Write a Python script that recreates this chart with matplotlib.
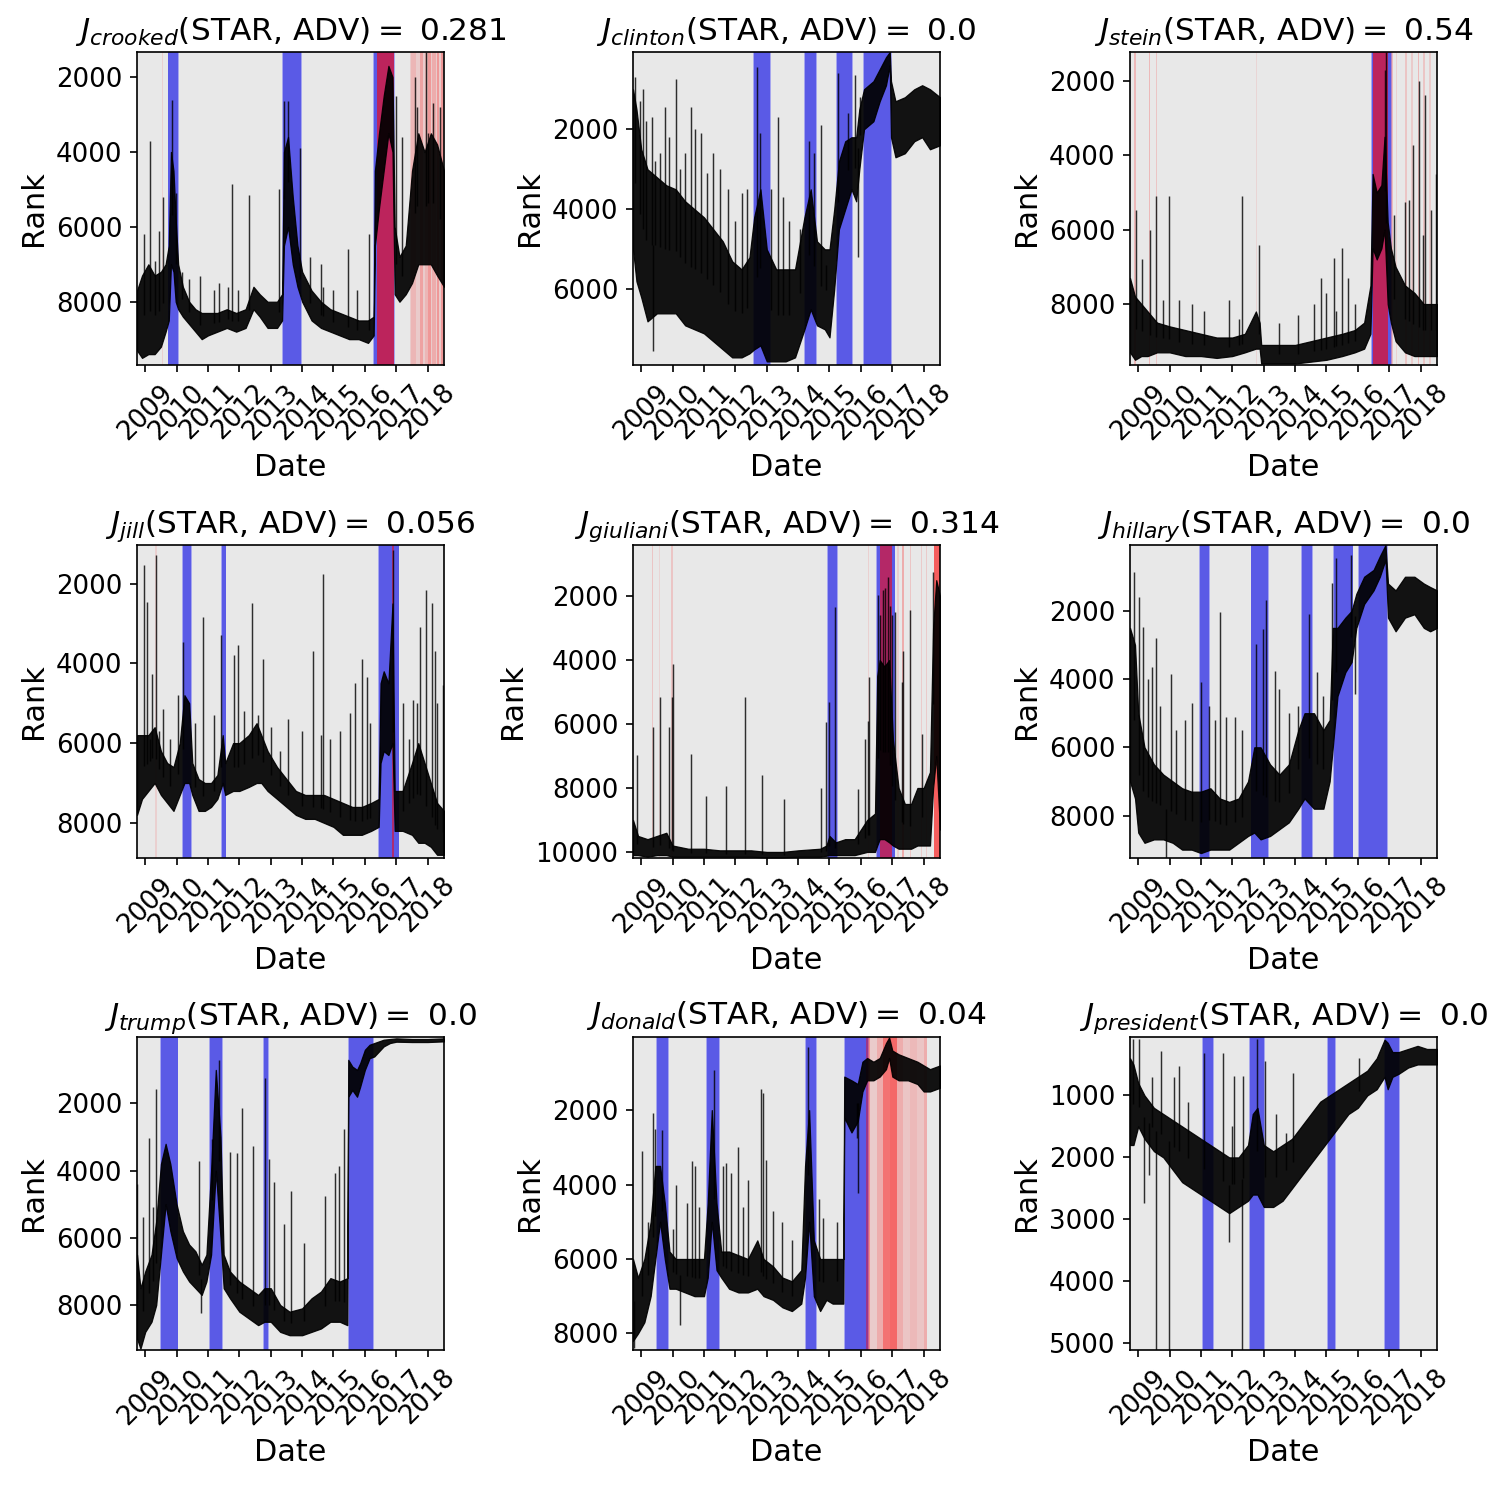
import matplotlib
matplotlib.use("Agg")
import matplotlib.pyplot as plt
import matplotlib.dates as mdates
import numpy as np
from datetime import datetime, timedelta

# words and their J(STAR, ADV) score
words = ['crooked', 'clinton', 'stein', 'jill', 'giuliani', 'hillary', 'trump', 'donald', 'president']
j_scores = ['0.281', '0.0', '0.54', '0.056', '0.314', '0.0', '0.0', '0.04', '0.0']

# rank band per word: (decimal year, upper rank, lower rank)
crooked_band = [(2008.74, 7700, 9300), (2008.9, 7300, 9500), (2009.1, 7000, 9400), (2009.3, 7300, 9400),
                (2009.5, 7200, 9200), (2009.65, 7000, 8800), (2009.75, 6500, 8500), (2009.82, 4000, 7000),
                (2009.9, 4500, 7200), (2009.97, 5800, 8000), (2010.05, 7000, 8200), (2010.2, 7600, 8400),
                (2010.4, 8000, 8600), (2010.6, 8200, 8800), (2010.8, 8300, 9000), (2011.0, 8300, 8900),
                (2011.3, 8300, 8800), (2011.6, 8200, 8700), (2011.9, 8300, 8800), (2012.2, 8200, 8700),
                (2012.45, 7600, 8200), (2012.65, 7800, 8400), (2012.9, 8000, 8700), (2013.2, 8000, 8700),
                (2013.36, 7800, 8500), (2013.42, 4000, 6500), (2013.55, 3600, 6000), (2013.7, 5200, 7000),
                (2013.85, 6500, 7600), (2014.0, 7200, 8000), (2014.3, 7700, 8500), (2014.6, 8000, 8700),
                (2014.9, 8200, 8800), (2015.2, 8300, 8900), (2015.5, 8400, 9000), (2015.8, 8500, 9000),
                (2016.1, 8500, 9100), (2016.28, 8400, 8900), (2016.32, 4500, 6500), (2016.45, 3500, 5500),
                (2016.6, 2500, 4500), (2016.75, 1700, 3500), (2016.88, 2000, 4000), (2016.95, 6000, 7800),
                (2017.1, 6800, 8000), (2017.3, 6500, 7800), (2017.5, 4500, 7500), (2017.7, 3500, 7000),
                (2017.9, 4000, 7000), (2018.1, 3500, 7000), (2018.3, 3800, 7300), (2018.52, 4500, 7600)]
clinton_band = [(2008.74, 1000, 5000), (2008.85, 1500, 5800), (2009.0, 2500, 6200), (2009.2, 3000, 6800),
                (2009.5, 3200, 6600), (2009.8, 3400, 6600), (2010.1, 3500, 6600), (2010.4, 3800, 6900),
                (2010.7, 4000, 7000), (2011.0, 4200, 7100), (2011.3, 4500, 7300), (2011.6, 4800, 7500),
                (2011.9, 5300, 7700), (2012.2, 5500, 7700), (2012.45, 5200, 7600), (2012.6, 4200, 7500),
                (2012.8, 3500, 7400), (2013.0, 5000, 7800), (2013.3, 5500, 7800), (2013.6, 5500, 7800),
                (2013.9, 5500, 7700), (2014.2, 4200, 7000), (2014.4, 3500, 6500), (2014.6, 4800, 6900),
                (2014.85, 5000, 7000), (2015.0, 5000, 7200), (2015.15, 4000, 6000), (2015.3, 2800, 4500),
                (2015.5, 2300, 4000), (2015.7, 2200, 3500), (2015.85, 2200, 3800), (2015.95, 1500, 3000),
                (2016.1, 1000, 2000), (2016.4, 800, 1800), (2016.6, 500, 1300), (2016.8, 200, 900),
                (2016.92, 70, 400), (2016.96, 800, 2200), (2017.1, 1300, 2700), (2017.4, 1200, 2600),
                (2017.7, 1000, 2300), (2017.95, 900, 2200), (2018.2, 1000, 2500), (2018.52, 1200, 2400)]
stein_band = [(2008.74, 7300, 9300), (2008.9, 7800, 9500), (2009.1, 8000, 9400), (2009.3, 8200, 9400),
              (2009.6, 8500, 9300), (2010.0, 8600, 9300), (2010.5, 8700, 9400), (2011.0, 8800, 9400),
              (2011.5, 8900, 9450), (2012.0, 8900, 9400), (2012.4, 8800, 9300), (2012.75, 8200, 9200),
              (2012.87, 8500, 9200), (2012.92, 9100, 9600), (2013.3, 9100, 9600), (2013.7, 9100, 9600),
              (2014.0, 9100, 9600), (2014.5, 9000, 9550), (2015.0, 8900, 9500), (2015.5, 8800, 9400),
              (2015.9, 8700, 9300), (2016.2, 8500, 9200), (2016.4, 7500, 8800), (2016.47, 4500, 6500),
              (2016.6, 5000, 6800), (2016.75, 4800, 6500), (2016.85, 3500, 6000), (2016.95, 5800, 8000),
              (2017.05, 6500, 8500), (2017.2, 7000, 9000), (2017.5, 7500, 9300), (2017.8, 7700, 9400),
              (2018.1, 8000, 9400), (2018.3, 8000, 9400), (2018.52, 8000, 9400)]
jill_band = [(2008.74, 5800, 7800), (2008.9, 5800, 7400), (2009.1, 5800, 7200), (2009.3, 5600, 7000),
             (2009.5, 6200, 7300), (2009.7, 6500, 7500), (2009.9, 6600, 7700), (2010.1, 6000, 7300),
             (2010.25, 4800, 7000), (2010.4, 5000, 7000), (2010.5, 6500, 7300), (2010.7, 6900, 7700),
             (2010.9, 7000, 7700), (2011.1, 7000, 7600), (2011.3, 6800, 7400), (2011.47, 5800, 7000),
             (2011.55, 6500, 7300), (2011.8, 6000, 7200), (2012.0, 6000, 7200), (2012.3, 5800, 7100),
             (2012.55, 5500, 7000), (2012.7, 5800, 7000), (2012.9, 6200, 7200), (2013.2, 6600, 7400),
             (2013.5, 6900, 7600), (2013.8, 7200, 7800), (2014.1, 7300, 7900), (2014.4, 7300, 7900),
             (2014.7, 7300, 8000), (2015.0, 7400, 8100), (2015.3, 7500, 8300), (2015.6, 7600, 8300),
             (2015.9, 7600, 8300), (2016.2, 7500, 8200), (2016.44, 7400, 8100), (2016.5, 4500, 6500),
             (2016.6, 4200, 6200), (2016.75, 4500, 6300), (2016.88, 2500, 6000), (2016.95, 7200, 8200),
             (2017.2, 7200, 8200), (2017.5, 6500, 8300), (2017.7, 6000, 8500), (2017.9, 6500, 8500),
             (2018.1, 7000, 8600), (2018.3, 7500, 8800), (2018.52, 7700, 8800)]
giuliani_band = [(2008.74, 9000, 10100), (2008.9, 9500, 10100), (2009.2, 9600, 10150), (2009.5, 9500, 10100),
                 (2009.8, 9400, 10100), (2010.0, 9800, 10150), (2010.5, 9900, 10150), (2011.0, 9900, 10150),
                 (2011.5, 9950, 10150), (2012.0, 9950, 10150), (2012.5, 9950, 10150), (2013.0, 10000, 10170),
                 (2013.5, 10000, 10170), (2014.0, 9950, 10150), (2014.7, 9900, 10150), (2014.9, 9800, 10120),
                 (2015.0, 9500, 10100), (2015.2, 9700, 10100), (2015.5, 9600, 10100), (2015.8, 9600, 10100),
                 (2016.0, 9300, 10050), (2016.2, 9000, 10000), (2016.45, 8800, 10000), (2016.52, 4500, 9800),
                 (2016.6, 4000, 9600), (2016.75, 4200, 9600), (2016.9, 4000, 9700), (2017.02, 6500, 9800),
                 (2017.2, 8000, 9900), (2017.4, 8500, 9900), (2017.6, 8500, 9900), (2017.8, 8000, 9800),
                 (2018.0, 8000, 9800), (2018.2, 7500, 9800), (2018.3, 3000, 8000), (2018.4, 1500, 7000),
                 (2018.52, 2000, 9300)]
hillary_band = [(2008.74, 2500, 7000), (2008.9, 3000, 7500), (2009.0, 5000, 8500), (2009.2, 6000, 8800),
                (2009.5, 6500, 8700), (2009.8, 6800, 8700), (2010.1, 7000, 8800), (2010.4, 7200, 9000),
                (2010.7, 7300, 9000), (2011.0, 7300, 9100), (2011.3, 7200, 9000), (2011.6, 7500, 9000),
                (2011.9, 7600, 9000), (2012.2, 7500, 8800), (2012.5, 7000, 8600), (2012.7, 6000, 8500),
                (2012.9, 6000, 8700), (2013.2, 6500, 8600), (2013.5, 6800, 8400), (2013.8, 6500, 8200),
                (2014.1, 5500, 7800), (2014.3, 5000, 7500), (2014.6, 5000, 7800), (2014.9, 5500, 7800),
                (2015.1, 5200, 7000), (2015.2, 2500, 6000), (2015.35, 2500, 4500), (2015.6, 2200, 3800),
                (2015.8, 2000, 3500), (2015.95, 1500, 2500), (2016.2, 1000, 1800), (2016.5, 800, 1400),
                (2016.7, 400, 1000), (2016.88, 70, 500), (2016.96, 1200, 2200), (2017.2, 1400, 2600),
                (2017.5, 1000, 2200), (2017.8, 1000, 2100), (2018.1, 1200, 2500), (2018.3, 1300, 2600),
                (2018.52, 1400, 2500)]
trump_band = [(2008.74, 6500, 9000), (2008.85, 7500, 9300), (2009.0, 7000, 8800), (2009.2, 6500, 8500),
              (2009.35, 5500, 8000), (2009.5, 3800, 6500), (2009.65, 3200, 5000), (2009.8, 3800, 5800),
              (2010.0, 5000, 6600), (2010.2, 5800, 7000), (2010.4, 6200, 7300), (2010.6, 6400, 7500),
              (2010.8, 6800, 7700), (2010.95, 6500, 7300), (2011.1, 4000, 6500), (2011.25, 1000, 4000),
              (2011.4, 3000, 6000), (2011.5, 6500, 7500), (2011.7, 7000, 7800), (2012.0, 7300, 8200),
              (2012.3, 7500, 8400), (2012.6, 7700, 8600), (2012.8, 7500, 8500), (2013.0, 7500, 8500),
              (2013.3, 8000, 8800), (2013.6, 8200, 8900), (2014.0, 8100, 8900), (2014.3, 7800, 8800),
              (2014.6, 7600, 8700), (2014.9, 7200, 8500), (2015.2, 7300, 8500), (2015.44, 7200, 8600),
              (2015.47, 700, 1800), (2015.6, 900, 1600), (2015.75, 1000, 1800), (2015.85, 800, 1500),
              (2016.0, 400, 1000), (2016.15, 250, 650), (2016.3, 200, 600), (2016.6, 100, 300),
              (2016.8, 80, 200), (2017.0, 60, 160), (2017.5, 80, 170), (2018.0, 80, 170), (2018.52, 60, 150)]
donald_band = [(2008.74, 6000, 8200), (2008.9, 6500, 8000), (2009.1, 6000, 7700), (2009.3, 5000, 7000),
               (2009.45, 3500, 6000), (2009.6, 3500, 5000), (2009.75, 4500, 6000), (2009.9, 5800, 6800),
               (2010.1, 6000, 6800), (2010.4, 6000, 6900), (2010.7, 6000, 7000), (2011.0, 6000, 7000),
               (2011.12, 4500, 6500), (2011.25, 2000, 5000), (2011.4, 4500, 6300), (2011.55, 5800, 6500),
               (2011.8, 5800, 6800), (2012.1, 5900, 6900), (2012.4, 6000, 6900), (2012.7, 5500, 6800),
               (2012.9, 6000, 7000), (2013.2, 6200, 7100), (2013.5, 6500, 7300), (2013.8, 6600, 7400),
               (2014.1, 6300, 7200), (2014.22, 3500, 6500), (2014.35, 2000, 5000), (2014.5, 5500, 7000),
               (2014.7, 6000, 7400), (2014.9, 6000, 7100), (2015.1, 6000, 7200), (2015.44, 6000, 7200),
               (2015.47, 1100, 2200), (2015.7, 1200, 2600), (2015.9, 1300, 2300), (2016.05, 700, 1500),
               (2016.2, 600, 1200), (2016.4, 700, 1200), (2016.6, 600, 1100), (2016.8, 200, 900),
               (2016.9, 50, 600), (2017.0, 400, 1100), (2017.2, 500, 1200), (2017.5, 600, 1200),
               (2017.8, 700, 1300), (2018.0, 800, 1500), (2018.2, 900, 1500), (2018.52, 800, 1400)]
president_band = [(2008.74, 400, 1800), (2008.85, 500, 1800), (2009.0, 800, 1500), (2009.2, 1000, 1700),
                  (2009.5, 1200, 1900), (2009.8, 1300, 2000), (2010.1, 1400, 2200), (2010.4, 1500, 2400),
                  (2010.7, 1600, 2500), (2011.0, 1700, 2600), (2011.3, 1800, 2700), (2011.6, 1900, 2800),
                  (2011.9, 2000, 2900), (2012.2, 2000, 2800), (2012.5, 1800, 2700), (2012.65, 1300, 2600),
                  (2012.8, 1200, 2600), (2013.0, 1800, 2800), (2013.3, 1900, 2800), (2013.6, 1800, 2700),
                  (2013.9, 1700, 2500), (2014.2, 1500, 2300), (2014.5, 1300, 2100), (2014.8, 1100, 1900),
                  (2015.1, 1000, 1700), (2015.4, 900, 1500), (2015.7, 800, 1300), (2016.0, 700, 1200),
                  (2016.3, 600, 1000), (2016.6, 400, 900), (2016.85, 100, 700), (2016.95, 150, 900),
                  (2017.1, 300, 700), (2017.3, 300, 650), (2017.6, 250, 550), (2017.9, 200, 500),
                  (2018.2, 250, 500), (2018.52, 250, 500)]

# single-day spikes: (decimal year, rank reached)
crooked_spikes = [(2008.95, 6200), (2009.16, 3700), (2009.3, 6900), (2009.45, 6100), (2009.58, 5200),
                  (2009.86, 2600), (2009.98, 5100), (2010.17, 7200), (2010.38, 7400), (2010.75, 7300),
                  (2011.18, 7700), (2011.34, 7500), (2011.65, 7600), (2011.78, 4850), (2011.97, 7700),
                  (2012.3, 5150), (2013.26, 5000), (2013.42, 2650), (2013.55, 2650), (2013.94, 3900),
                  (2014.26, 6800), (2014.6, 7000), (2014.68, 7600), (2015.0, 7700), (2015.45, 6600),
                  (2015.76, 7700), (2016.14, 6200), (2016.98, 2500), (2017.17, 3600), (2017.6, 2000),
                  (2017.65, 2800), (2017.95, 1330), (2018.02, 3500), (2018.17, 2700), (2018.4, 2800)]
clinton_spikes = [(2008.8, 700), (2008.95, 1300), (2009.05, 1000), (2009.15, 1800), (2009.35, 1700),
                  (2009.39, 7550), (2009.45, 2800), (2009.6, 2600), (2009.76, 1450), (2009.9, 2200),
                  (2010.1, 750), (2010.25, 3000), (2010.4, 2600), (2010.58, 1450), (2010.7, 2000),
                  (2010.9, 2100), (2011.1, 3100), (2011.3, 2600), (2011.5, 3000), (2011.78, 3500),
                  (2012.0, 4300), (2012.2, 3600), (2012.37, 3500), (2012.68, 450), (2012.79, 2100),
                  (2013.15, 3500), (2013.35, 1700), (2013.53, 3700), (2013.7, 4300), (2014.05, 4500),
                  (2014.35, 2300), (2014.5, 2600), (2014.73, 1900), (2014.88, 5400), (2015.28, 600),
                  (2015.58, 1600), (2015.82, 650), (2015.92, 5200), (2015.97, 1200)]
stein_spikes = [(2008.94, 5470), (2009.13, 6800), (2009.37, 6000), (2009.58, 5100), (2009.8, 7900),
                (2009.97, 5100), (2010.3, 7900), (2010.7, 8000), (2011.1, 8200), (2011.9, 7900),
                (2012.2, 8400), (2012.31, 5100), (2012.84, 6400), (2013.5, 8500), (2014.1, 8300),
                (2014.6, 8000), (2014.84, 7300), (2015.0, 7700), (2015.23, 6750), (2015.3, 8200),
                (2015.5, 6500), (2015.68, 7300), (2015.9, 8000), (2016.86, 1700), (2016.9, 1220),
                (2017.16, 5600), (2017.51, 5250), (2017.62, 5200), (2017.76, 3730), (2017.94, 2000),
                (2018.08, 6150), (2018.13, 2380), (2018.33, 5470), (2018.49, 4500)]
jill_spikes = [(2008.95, 1540), (2009.06, 2460), (2009.15, 5900), (2009.23, 4270), (2009.34, 1290),
               (2009.45, 5700), (2009.58, 5150), (2009.8, 5900), (2010.05, 4800), (2010.2, 3470),
               (2010.6, 5500), (2010.84, 2840), (2011.2, 5300), (2011.42, 3300), (2011.84, 3800),
               (2011.95, 3550), (2012.15, 5200), (2012.4, 2500), (2012.6, 5300), (2012.75, 3900),
               (2013.0, 5600), (2013.3, 6200), (2013.56, 5400), (2014.0, 5700), (2014.36, 3700),
               (2014.6, 5800), (2014.66, 1750), (2014.9, 5900), (2015.2, 5700), (2015.51, 5250),
               (2015.7, 4500), (2015.92, 3900), (2016.06, 4350), (2016.15, 5500), (2016.91, 1150),
               (2017.2, 5000), (2017.4, 5900), (2017.54, 4930), (2017.65, 5000), (2017.74, 3100),
               (2017.95, 2170), (2018.13, 2500), (2018.24, 3700), (2018.3, 5000), (2018.48, 4550)]
giuliani_spikes = [(2008.86, 6980), (2009.36, 6080), (2009.6, 5140), (2009.9, 6080), (2009.97, 5140),
                   (2010.0, 4120), (2010.59, 6950), (2011.07, 8250), (2011.71, 7930), (2012.32, 5140),
                   (2012.84, 7600), (2013.55, 8340), (2014.73, 8000), (2014.89, 5950), (2014.99, 5320),
                   (2015.16, 2340), (2015.92, 8040), (2016.13, 6470), (2016.24, 5900), (2016.26, 4530),
                   (2016.54, 1970), (2016.62, 2600), (2016.7, 1800), (2016.78, 1760), (2016.86, 1400),
                   (2016.94, 2300), (2017.0, 2600), (2017.07, 2500), (2017.3, 4700), (2017.35, 3700),
                   (2017.57, 2440), (2017.96, 6320), (2018.31, 1240)]
hillary_spikes = [(2008.88, 850), (2009.02, 1590), (2009.16, 2470), (2009.3, 4000), (2009.44, 3650),
                  (2009.58, 2800), (2009.7, 4800), (2009.9, 9245), (2010.04, 3840), (2010.2, 5500),
                  (2010.5, 5200), (2010.7, 4700), (2010.99, 4100), (2011.25, 4800), (2011.45, 5200),
                  (2011.6, 2030), (2011.8, 5100), (2012.1, 5100), (2012.3, 5500), (2012.77, 2960),
                  (2012.98, 2520), (2013.06, 1690), (2013.35, 3750), (2013.5, 4300), (2013.8, 5000),
                  (2014.1, 4800), (2014.43, 2080), (2014.7, 3800), (2014.9, 4500), (2015.18, 1170),
                  (2015.29, 460), (2015.78, 360), (2015.92, 4440)]
trump_spikes = [(2008.75, 4400), (2008.92, 5380), (2009.13, 3020), (2009.24, 5080), (2009.35, 1580),
                (2010.7, 3700), (2010.78, 8250), (2011.12, 3070), (2011.34, 700), (2011.7, 3430),
                (2011.91, 3470), (2012.1, 2130), (2012.42, 3270), (2012.82, 1230), (2012.96, 3640),
                (2013.11, 4330), (2013.43, 5600), (2013.65, 4600), (2014.05, 6150), (2014.73, 4750),
                (2015.05, 4060), (2015.16, 3870), (2015.32, 2770)]
donald_spikes = [(2008.78, 8380), (2009.02, 3100), (2009.2, 5000), (2009.37, 2070), (2009.44, 2500),
                 (2009.67, 2540), (2010.0, 5200), (2010.11, 4000), (2010.24, 7780), (2010.45, 4500),
                 (2010.61, 3380), (2010.7, 3500), (2010.85, 4600), (2011.32, 930), (2011.6, 3500),
                 (2011.7, 3430), (2011.85, 3700), (2012.07, 2980), (2012.25, 4600), (2012.39, 3870),
                 (2012.81, 1420), (2012.87, 1550), (2012.99, 3340), (2013.2, 4700), (2013.5, 5000),
                 (2013.8, 5500), (2014.33, 300), (2014.65, 4400), (2014.8, 4900), (2015.25, 5000),
                 (2015.89, 2760), (2015.9, 4230)]
president_spikes = [(2008.84, 95), (2009.04, 95), (2009.19, 2740), (2009.34, 2280), (2009.45, 700),
                    (2009.58, 5108), (2009.71, 280), (2009.98, 5108), (2010.15, 700), (2010.29, 525),
                    (2010.6, 1100), (2011.11, 310), (2011.7, 310), (2011.9, 3360), (2012.0, 1500),
                    (2012.05, 690), (2012.3, 5108), (2012.34, 690), (2012.79, 95), (2013.05, 445),
                    (2013.4, 1300), (2013.7, 1600), (2013.93, 630), (2016.03, 390)]

# STAR periods (blue) and ADV periods (red, with strength)
crooked_blue = [(2009.74, 2010.06), (2013.38, 2013.96), (2016.30, 2016.93)]
clinton_blue = [(2012.58, 2013.11), (2014.23, 2014.56), (2015.25, 2015.72), (2016.09, 2016.95)]
stein_blue = [(2016.45, 2017.04)]
jill_blue = [(2010.2, 2010.46), (2011.44, 2011.56), (2016.46, 2017.07)]
giuliani_blue = [(2014.94, 2015.23), (2016.5, 2017.07)]
hillary_blue = [(2010.96, 2011.25), (2012.61, 2013.13), (2014.22, 2014.55), (2015.23, 2015.83), (2016.04, 2016.93)]
trump_blue = [(2009.51, 2010.03), (2011.07, 2011.46), (2012.79, 2012.9), (2015.5, 2016.27)]
donald_blue = [(2009.5, 2009.85), (2011.11, 2011.49), (2014.24, 2014.57), (2015.5, 2016.24)]
president_blue = [(2011.06, 2011.38), (2012.57, 2013.02), (2015.06, 2015.26), (2016.86, 2017.3)]

crooked_red = [(2009.53, 2009.57, 0.1), (2016.38, 2016.93, 0.6), (2017.45, 2018.52, 0.12),
               (2017.48, 2017.62, 0.1), (2017.75, 2017.85, 0.2), (2017.9, 2018.0, 0.1),
               (2018.02, 2018.1, 0.25), (2018.15, 2018.25, 0.15), (2018.3, 2018.35, 0.25), (2018.42, 2018.5, 0.25)]
clinton_red = []
stein_red = [(2008.88, 2008.92, 0.2), (2009.35, 2009.39, 0.2), (2009.56, 2009.6, 0.15), (2012.74, 2012.78, 0.08),
             (2016.48, 2016.97, 0.6), (2017.05, 2017.12, 0.2), (2017.2, 2017.25, 0.1), (2017.5, 2017.56, 0.15),
             (2017.68, 2017.75, 0.12), (2017.9, 2017.96, 0.2), (2018.08, 2018.14, 0.15), (2018.28, 2018.34, 0.12)]
jill_red = [(2009.32, 2009.36, 0.1), (2016.88, 2016.93, 0.5)]
giuliani_red = [(2009.35, 2009.39, 0.15), (2009.56, 2009.6, 0.08), (2009.96, 2010.0, 0.15), (2016.23, 2016.27, 0.1),
                (2016.6, 2017.0, 0.55), (2017.15, 2017.2, 0.1), (2017.3, 2017.36, 0.25), (2017.55, 2017.6, 0.15),
                (2017.9, 2017.95, 0.12), (2018.07, 2018.12, 0.12), (2018.34, 2018.52, 0.6)]
hillary_red = []
trump_red = []
donald_red = [(2016.17, 2016.29, 0.4), (2016.29, 2016.5, 0.12), (2016.5, 2016.72, 0.25), (2016.72, 2016.94, 0.5),
              (2016.94, 2017.16, 0.55), (2017.16, 2017.35, 0.25), (2017.35, 2017.57, 0.15),
              (2017.57, 2017.78, 0.2), (2017.78, 2018.0, 0.15), (2018.0, 2018.1, 0.25)]
president_red = []

# visible rank range (bottom, top) per panel
rank_limits = [(9690, 1330), (7890, 70), (9640, 1220), (8880, 1035), (10190, 400),
               (9245, 70), (9340, 20), (8446, 36), (5108, 57)]

bands = [crooked_band, clinton_band, stein_band, jill_band, giuliani_band,
         hillary_band, trump_band, donald_band, president_band]
spikes = [crooked_spikes, clinton_spikes, stein_spikes, jill_spikes, giuliani_spikes,
          hillary_spikes, trump_spikes, donald_spikes, president_spikes]
blues = [crooked_blue, clinton_blue, stein_blue, jill_blue, giuliani_blue,
         hillary_blue, trump_blue, donald_blue, president_blue]
reds = [crooked_red, clinton_red, stein_red, jill_red, giuliani_red,
        hillary_red, trump_red, donald_red, president_red]


def to_date(y):
    yr = int(y)
    return datetime(yr, 1, 1) + timedelta(days=(y - yr) * 365.25)


W, H = 1502, 1486
fig = plt.figure(figsize=(W / 150, H / 150), dpi=150)
col_left = [137, 633, 1130]
row_top = [52, 545, 1037]
ax_w, ax_h = 307, 313

x0, x1 = to_date(2008.74), to_date(2018.52)

for i, w in enumerate(words):
    r, c = divmod(i, 3)
    ax = fig.add_axes([col_left[c] / W, 1 - (row_top[r] + ax_h) / H, ax_w / W, ax_h / H])
    ax.set_facecolor('#e8e8e8')

    # STAR spans
    for s, e in blues[i]:
        ax.axvspan(to_date(s - 0.03), to_date(e + 0.03), color='#a6a6ee', lw=0, zorder=1)
        ax.axvspan(to_date(s), to_date(e), color='#5a5ae6', lw=0, zorder=1)
    # ADV spans
    for s, e, a in reds[i]:
        ax.axvspan(to_date(s), to_date(e), color='red', alpha=a, lw=0, zorder=1.5)

    t = [to_date(p[0]) for p in bands[i]]
    lo = np.array([p[1] for p in bands[i]])
    hi = np.array([p[2] for p in bands[i]])
    ax.fill_between(t, lo, hi, facecolor='black', edgecolor='black', alpha=0.92, lw=0.6, zorder=2)

    tn = mdates.date2num(t)
    mid = (lo + hi) / 2
    sx = [to_date(p[0]) for p in spikes[i]]
    sv = [p[1] for p in spikes[i]]
    base = np.interp(mdates.date2num(sx), tn, mid)
    ax.vlines(sx, sv, base, color='black', lw=0.7, alpha=0.8, zorder=2)

    ax.set_xlim(x0, x1)
    ax.set_ylim(*rank_limits[i])
    ax.xaxis.set_major_locator(mdates.YearLocator())
    ax.xaxis.set_major_formatter(mdates.DateFormatter('%Y'))
    ax.tick_params(axis='both', labelsize=12.5)
    plt.setp(ax.get_xticklabels(), rotation=45)
    ax.set_xlabel('Date', fontsize=14.5)
    ax.set_ylabel('Rank', fontsize=14.5)
    ax.set_title('$J_{%s}$(STAR, ADV)$=$ %s' % (w, j_scores[i]), fontsize=15)

fig.savefig('out.png', dpi=150)
